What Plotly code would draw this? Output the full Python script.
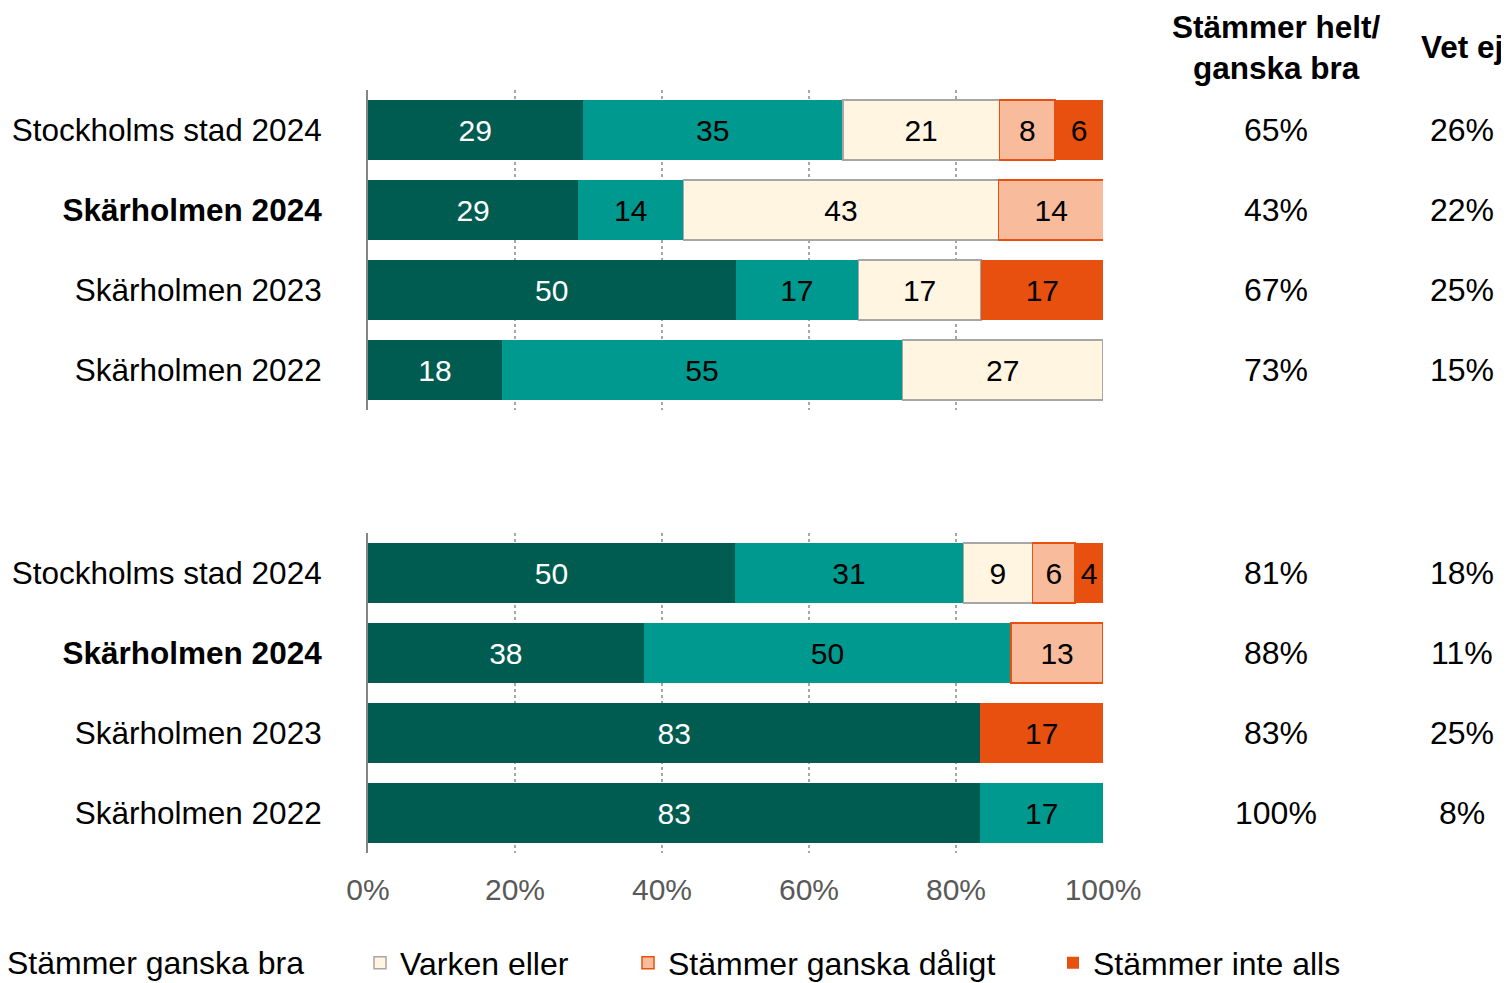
import plotly.graph_objects as go

# ---------------- data ----------------
rows = ["Stockholms stad 2024", "Skärholmen 2024", "Skärholmen 2023", "Skärholmen 2022"]
bold_row = "Skärholmen 2024"

series = ["Stämmer helt bra", "Stämmer ganska bra", "Varken eller",
          "Stämmer ganska dåligt", "Stämmer inte alls"]

# top group (bar lengths, %)
top_helt = [29.2, 28.6, 50.0, 18.2]
top_ganska = [35.4, 14.3, 16.7, 54.5]
top_varken = [21.3, 42.9, 16.7, 27.3]
top_daligt = [7.6, 14.3, None, None]
top_inte = [6.5, None, 16.7, None]
# top group labels
top_helt_lbl = ["29", "29", "50", "18"]
top_ganska_lbl = ["35", "14", "17", "55"]
top_varken_lbl = ["21", "43", "17", "27"]
top_daligt_lbl = ["8", "14", "", ""]
top_inte_lbl = ["6", "", "17", ""]

# bottom group (bar lengths, %)
bot_helt = [49.9, 37.5, 83.3, 83.3]
bot_ganska = [31.1, 50.0, None, 16.7]
bot_varken = [9.4, None, None, None]
bot_daligt = [5.8, 12.5, None, None]
bot_inte = [3.8, None, 16.7, None]
# bottom group labels
bot_helt_lbl = ["50", "38", "83", "83"]
bot_ganska_lbl = ["31", "50", "", "17"]
bot_varken_lbl = ["9", "", "", ""]
bot_daligt_lbl = ["6", "13", "", ""]
bot_inte_lbl = ["4", "", "17", ""]

# right-hand columns
top_bra = ["65%", "43%", "67%", "73%"]
top_vetej = ["26%", "22%", "25%", "15%"]
bot_bra = ["81%", "88%", "83%", "100%"]
bot_vetej = ["18%", "11%", "25%", "8%"]

header_bra = "Stämmer helt/<br>ganska bra"
header_vetej = "Vet ej"

x_ticks = [0, 20, 40, 60, 80, 100]
x_ticktext = ["0%", "20%", "40%", "60%", "80%", "100%"]

# ---------------- style ----------------
FONT = "Liberation Sans, Arial, sans-serif"
FS_BAR = 30
FS_LBL = 31.5
FS_VAL = 32
FS_TICK = 30
FS_LEG = 32
colors = ["#005B50", "#00998F", "#FFF5E1", "#F8BC9C", "#E8500F"]
line_colors = ["#005B50", "#00998F", "#A6A6A6", "#E8500F", "#E8500F"]
line_widths = [0, 0, 1.5, 1.5, 0]
text_colors = ["white", "black", "black", "black", "black"]
legend_ids = [None, None, "legend", "legend2", "legend3"]

top_vals = [top_helt, top_ganska, top_varken, top_daligt, top_inte]
top_lbls = [top_helt_lbl, top_ganska_lbl, top_varken_lbl, top_daligt_lbl, top_inte_lbl]
bot_vals = [bot_helt, bot_ganska, bot_varken, bot_daligt, bot_inte]
bot_lbls = [bot_helt_lbl, bot_ganska_lbl, bot_varken_lbl, bot_daligt_lbl, bot_inte_lbl]

fig = go.Figure()

for i, name in enumerate(series):
    for grp, (vals, lbls, xa, ya) in enumerate([(top_vals[i], top_lbls[i], "x", "y"),
                                                  (bot_vals[i], bot_lbls[i], "x2", "y2")]):
        kw = {}
        show = grp == 0 and legend_ids[i] is not None
        if show:
            kw["legend"] = legend_ids[i]
        fig.add_trace(go.Bar(
            y=rows, x=vals, orientation="h", name=name,
            xaxis=xa, yaxis=ya,
            marker=dict(color=colors[i], line=dict(color=line_colors[i], width=line_widths[i])),
            text=lbls, textposition="inside", insidetextanchor="middle",
            textangle=0, constraintext="none",
            textfont=dict(family=FONT, size=FS_BAR, color=text_colors[i]),
            showlegend=show, hoverinfo="skip", **kw,
        ))

ticktext = [f"<b>{r}</b>" if r == bold_row else r for r in rows]

# page body has an 8px margin: work in figure coordinates = screen - OFF
OFF = 8
W, H = 1509, 983
ML = 368 - OFF
MT = 90 - OFF
plot_right = 1103 - OFF
plot_bottom = 853 - OFF
MR = W - plot_right
MB = H - plot_bottom
plot_h = H - MT - MB
plot_w = W - ML - MR
top_dom = [(plot_bottom - (410 - OFF)) / plot_h, 1.0]
bot_dom = [0.0, (plot_bottom - (533 - OFF)) / plot_h]


def px_x(sx):
    return (sx - OFF - ML) / plot_w


def px_y(sy):
    return (plot_bottom - (sy - OFF)) / plot_h


LEG_Y = 963

xcommon = dict(range=[0, 100], showgrid=True, gridcolor="#A6A6A6", gridwidth=1.5,
               griddash="dot", zeroline=False, showline=False, tickvals=x_ticks,
               ticktext=x_ticktext, fixedrange=True, automargin=False)
ycommon = dict(categoryorder="array", categoryarray=rows, autorange="reversed",
               tickvals=rows, ticktext=ticktext, showline=True, linecolor="#868686",
               linewidth=2, showgrid=False, zeroline=False, ticks="", automargin=False,
               ticklabelstandoff=38, tickfont=dict(family=FONT, size=FS_LBL, color="black"))

fig.update_layout(
    width=W, height=H,
    margin=dict(l=ML, r=MR, t=MT, b=MB, autoexpand=False),
    paper_bgcolor="white", plot_bgcolor="white",
    barmode="stack", bargap=0.25,
    font=dict(family=FONT, size=FS_BAR, color="black"),
    xaxis=dict(xcommon, anchor="y", showticklabels=False),
    yaxis=dict(ycommon, domain=top_dom, anchor="x"),
    xaxis2=dict(xcommon, anchor="y2", showticklabels=True,
                tickfont=dict(family=FONT, size=FS_TICK, color="#595959"),
                ticklabelstandoff=16),
    yaxis2=dict(ycommon, domain=bot_dom, anchor="x2"),
)

leg_common = dict(orientation="h", xref="container", yref="container",
                  xanchor="left", yanchor="middle", y=(H - (LEG_Y - OFF)) / H,
                  bgcolor="rgba(0,0,0,0)", borderwidth=0,
                  font=dict(family=FONT, size=FS_LEG, color="black"), itemwidth=30)
fig.update_layout(
    legend=dict(leg_common, x=(400 - OFF - 40) / W),
    legend2=dict(leg_common, x=(668 - OFF - 40) / W),
    legend3=dict(leg_common, x=(1093 - OFF - 40) / W),
)

# partially visible first legend entry
fig.add_annotation(text="Stämmer ganska bra", xref="paper", yref="paper",
                   x=px_x(5), y=px_y(LEG_Y),
                   xanchor="left", yanchor="middle", showarrow=False,
                   font=dict(family=FONT, size=FS_LEG, color="black"))

x_bra = px_x(1276)
x_vet = px_x(1462)
for col_x, vals_top, vals_bot in [(x_bra, top_bra, bot_bra), (x_vet, top_vetej, bot_vetej)]:
    for r, v in zip(rows, vals_top):
        fig.add_annotation(text=v, x=col_x, xref="paper", y=r, yref="y",
                           showarrow=False, xanchor="center", yanchor="middle",
                           font=dict(family=FONT, size=FS_VAL, color="black"))
    for r, v in zip(rows, vals_bot):
        fig.add_annotation(text=v, x=col_x, xref="paper", y=r, yref="y2",
                           showarrow=False, xanchor="center", yanchor="middle",
                           font=dict(family=FONT, size=FS_VAL, color="black"))

hy = px_y(47)
fig.add_annotation(text=f"<b>{header_bra}</b>", x=x_bra, xref="paper", y=hy, yref="paper",
                   showarrow=False, xanchor="center", yanchor="middle",
                   font=dict(family=FONT, size=FS_LBL, color="black"))
fig.add_annotation(text=f"<b>{header_vetej}</b>", x=x_vet, xref="paper", y=hy, yref="paper",
                   showarrow=False, xanchor="center", yanchor="middle",
                   font=dict(family=FONT, size=FS_LBL, color="black"))

fig.write_html("out.html")
